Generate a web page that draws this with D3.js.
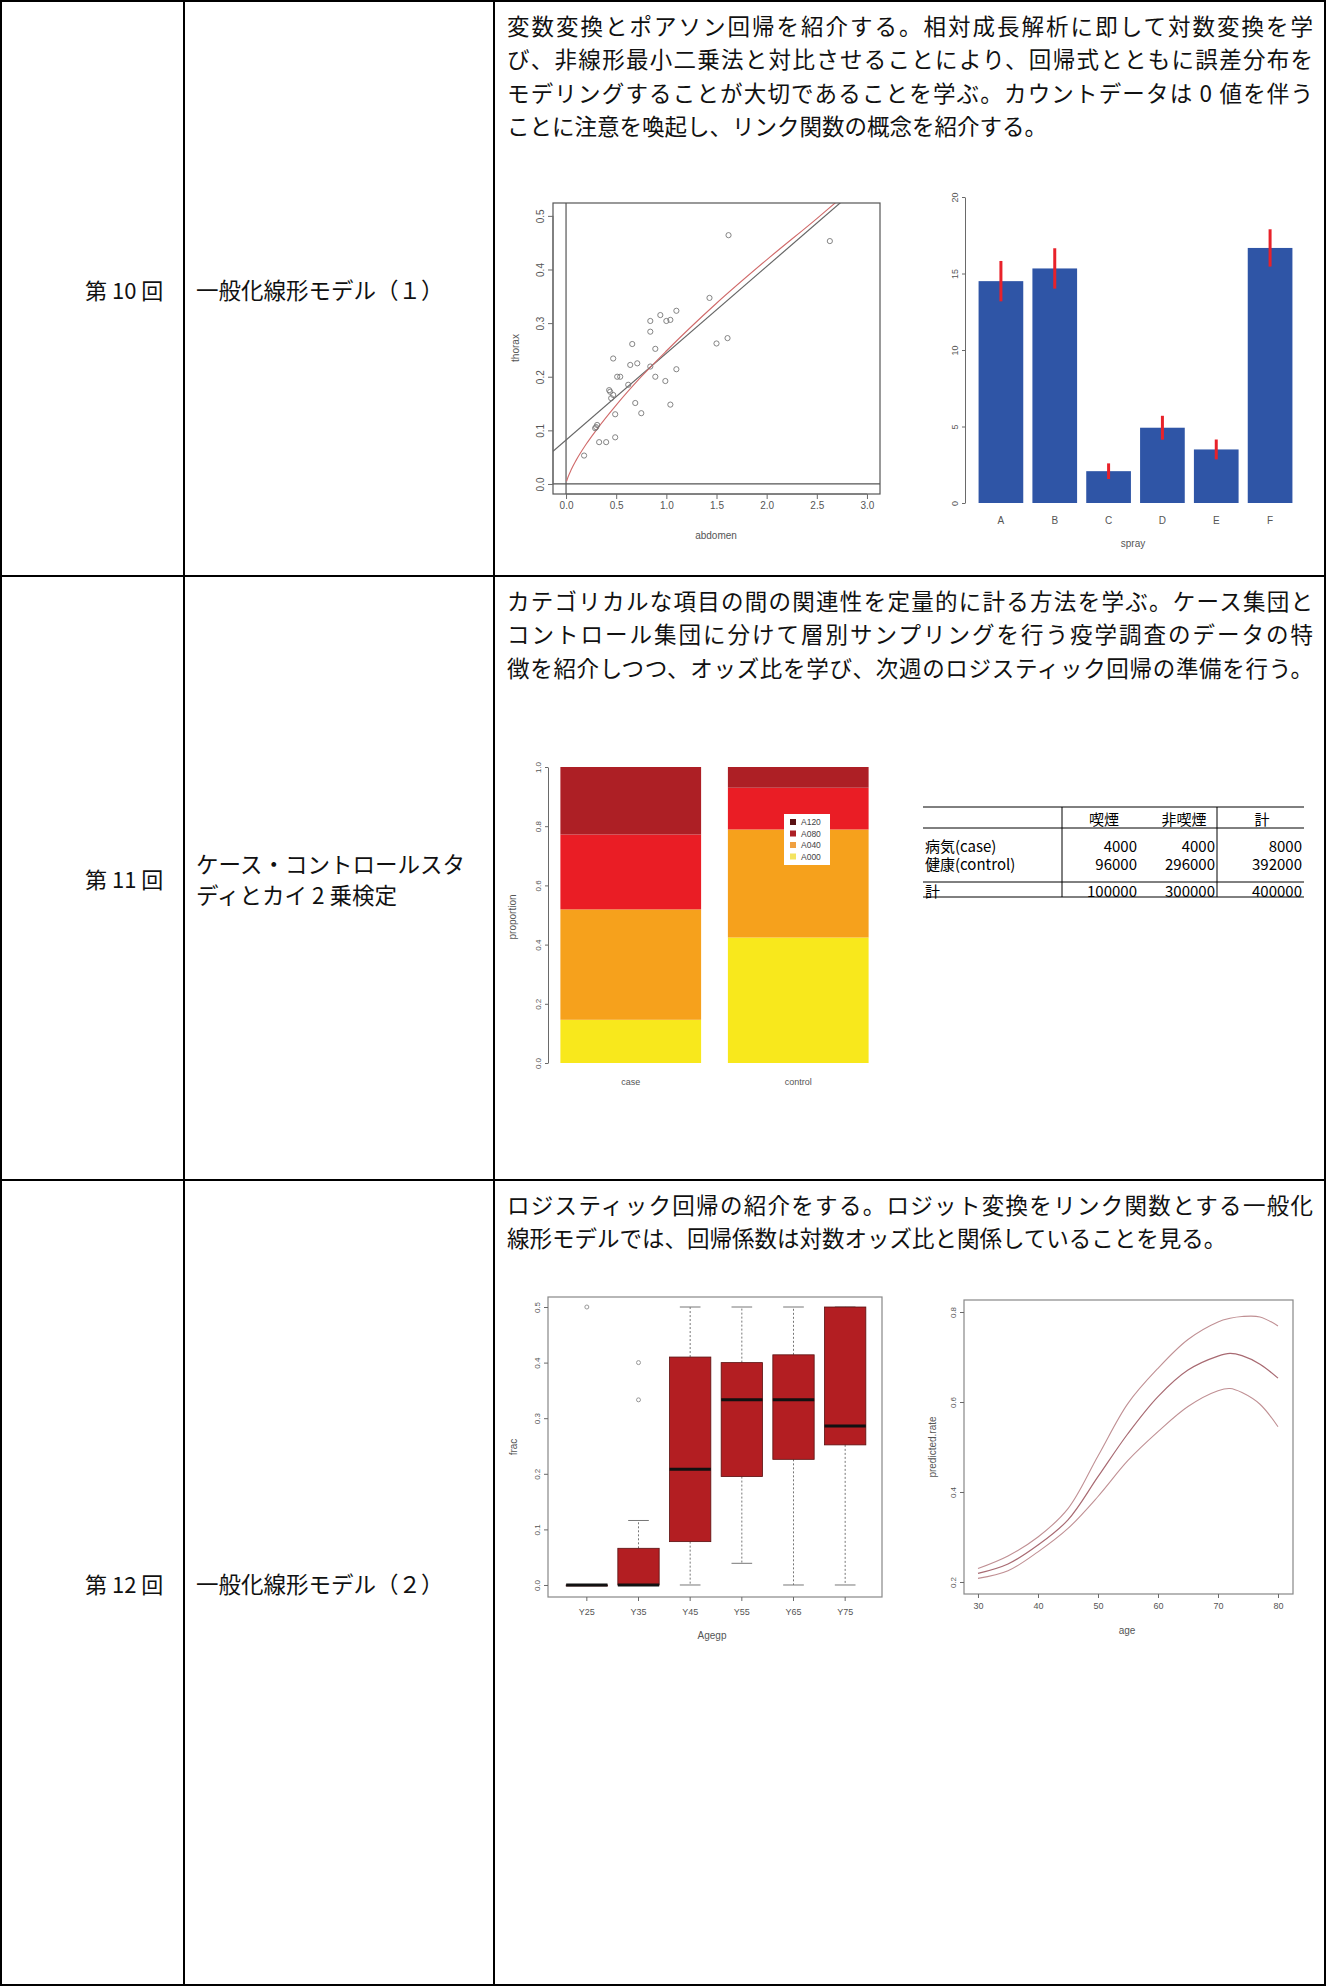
<!DOCTYPE html>
<html><head><meta charset="utf-8">
<script src="https://cdn.jsdelivr.net/npm/d3@7"></script>
<style>body{margin:0;background:#fff} svg{display:block}</style>
</head><body><svg id="c" width="1326" height="1986"></svg>
<script>
// ---------------- DATA ----------------
const rowLabels = ["第 10 回", "第 11 回", "第 12 回"];
const rowTitles = [["一般化線形モデル（１）"], ["ケース・コントロールスタ", "ディとカイ 2 乗検定"], ["一般化線形モデル（２）"]];
const row10Text = [
  "変数変換とポアソン回帰を紹介する。相対成長解析に即して対数変換を学",
  "び、非線形最小二乗法と対比させることにより、回帰式とともに誤差分布を",
  "モデリングすることが大切であることを学ぶ。カウントデータは 0 値を伴う",
  "ことに注意を喚起し、リンク関数の概念を紹介する。"
];
const row11Text = [
  "カテゴリカルな項目の間の関連性を定量的に計る方法を学ぶ。ケース集団と",
  "コントロール集団に分けて層別サンプリングを行う疫学調査のデータの特",
  "徴を紹介しつつ、オッズ比を学び、次週のロジスティック回帰の準備を行う。"
];
const row12Text = [
  "ロジスティック回帰の紹介をする。ロジット変換をリンク関数とする一般化",
  "線形モデルでは、回帰係数は対数オッズ比と関係していることを見る。"
];

// scatter (abdomen vs thorax)
const scatterAbdomen = [1.62,2.63,1.43,1.10,0.94,0.84,1.04,1.00,0.84,0.66,0.89,0.47,0.64,0.71,0.84,1.10,0.51,0.54,0.89,0.99,0.62,0.44,0.47,0.45,0.69,1.04,0.75,0.49,0.31,0.29,0.33,0.40,0.49,1.50,1.61,0.18,0.43,0.30];
const scatterThorax  = [0.464,0.453,0.347,0.323,0.315,0.304,0.306,0.304,0.284,0.261,0.252,0.234,0.222,0.225,0.219,0.214,0.200,0.200,0.200,0.192,0.185,0.172,0.166,0.160,0.151,0.148,0.132,0.130,0.110,0.104,0.078,0.078,0.087,0.262,0.272,0.053,0.175,0.106];
const scatterXTicks = [0,0.5,1.0,1.5,2.0,2.5,3.0];
const scatterYTicks = [0,0.1,0.2,0.3,0.4,0.5];
const fitLineX = [-0.13, 2.8];
const fitLineY = [0.061, 0.535];
const powerCurveX = [0.005,0.02,0.05,0.1,0.2,0.3,0.5,0.75,1.0,1.5,2.0,2.5,2.72];
const powerCurveY = [0.005,0.013,0.026,0.044,0.074,0.100,0.147,0.200,0.248,0.337,0.418,0.495,0.53];

// insect sprays
const sprays = ["A","B","C","D","E","F"];
const sprayMeans = [14.5,15.33,2.08,4.92,3.5,16.67];
const spraySE = [1.32,1.32,0.51,0.78,0.65,1.22];
const sprayYTicks = [0,5,10,15,20];

// stacked proportions
const groups = ["case","control"];
const alcLevels = ["A000","A040","A080","A120"];
const propCase = [0.146,0.373,0.253,0.228];
const propControl = [0.424,0.365,0.141,0.070];
const propTicks = [0,0.2,0.4,0.6,0.8,1.0];

// 2x2 table
const tableHeader = ["", "喫煙", "非喫煙", "計"];
const tableRowNames = ["病気(case)", "健康(control)", "計"];
const tableSmoke = [4000, 96000, 100000];
const tableNonSmoke = [4000, 296000, 300000];
const tableTotal = [8000, 392000, 400000];

// box plot
const ageGroups = ["Y25","Y35","Y45","Y55","Y65","Y75"];
const boxLow = [0, 0, 0, 0.039, 0, 0];
const boxQ1 = [0, 0, 0.078, 0.195, 0.226, 0.252];
const boxMedian = [0, 0, 0.208, 0.333, 0.333, 0.286];
const boxQ3 = [0, 0.066, 0.41, 0.40, 0.414, 0.5];
const boxHigh = [0, 0.116, 0.5, 0.5, 0.5, 0.5];
const boxOutliers = [[0.5],[0.4,0.333],[],[],[],[]];
const boxYTicks = [0,0.1,0.2,0.3,0.4,0.5];

// predicted curves
const ages = [30,35,40,45,50,55,60,65,70,72,74,77,80];
const predUpper = [0.230,0.258,0.300,0.363,0.480,0.597,0.675,0.739,0.778,0.786,0.790,0.789,0.769];
const predMid   = [0.219,0.240,0.282,0.338,0.434,0.530,0.612,0.671,0.702,0.708,0.703,0.684,0.653];
const predLower = [0.208,0.225,0.267,0.319,0.390,0.470,0.534,0.590,0.625,0.630,0.621,0.595,0.545];
const ageTicks = [30,40,50,60,70,80];
const predYTicks = [0.2,0.4,0.6,0.8];

// ---------------- DRAW ----------------
const svg = d3.select("#c");
svg.append("rect").attr("width",1326).attr("height",1986).attr("fill","#fff");
const JP = "'Noto Sans CJK JP','Noto Sans',sans-serif";
const LS = "'Liberation Sans',Arial,sans-serif";
const rowTops = [1, 576, 1180];
const rowBottoms = [576, 1180, 1985];

// table grid
const grid = svg.append("g").attr("stroke","#000").attr("stroke-width",2).attr("fill","none");
grid.append("rect").attr("x",1).attr("y",1).attr("width",1324).attr("height",1984);
[184,494].forEach(x=>grid.append("line").attr("x1",x).attr("x2",x).attr("y1",0).attr("y2",1986));
[576,1180].forEach(y=>grid.append("line").attr("x1",0).attr("x2",1326).attr("y1",y).attr("y2",y));

// left cells
rowLabels.forEach((t,i)=>{
  const cy = (rowTops[i]+rowBottoms[i])/2;
  svg.append("text").attr("x",85).attr("y",cy).attr("dominant-baseline","central")
    .attr("font-family",JP).attr("font-size",22).attr("fill","#111").text(t);
  const tl = rowTitles[i];
  tl.forEach((s,j)=>{
    svg.append("text").attr("x",196).attr("y",cy + (j - (tl.length-1)/2)*31)
      .attr("dominant-baseline","central").attr("font-family",JP).attr("font-size",22.5)
      .attr("fill","#111").text(s);
  });
});

function para(lines, y0, justifyCount){
  lines.forEach((s,i)=>{
    const t = svg.append("text").attr("x",507).attr("y",y0 + i*33.4).attr("dominant-baseline","central")
      .attr("font-family",JP).attr("font-size",22.5).attr("fill","#111").text(s);
    if(i < justifyCount) t.attr("textLength",806).attr("lengthAdjust","spacing");
  });
}
para(row10Text, rowTops[0]+24, 3);
para(row11Text, rowTops[1]+24, 3);
para(row12Text, rowTops[2]+24, 1);

function styleAxis(g, fs){
  g.selectAll("path,line").attr("stroke","#6a6a6a");
  g.selectAll("text").attr("fill","#555").attr("font-size",fs||10).attr("font-family",LS);
}
function rotateLeftLabels(g, off){
  g.selectAll("text").attr("transform","rotate(-90)").attr("x",0).attr("y",-off).attr("dy",0)
    .attr("text-anchor","middle");
}
function axisTitle(x,y,txt,rot){
  const t = svg.append("text").attr("x",x).attr("y",y).attr("text-anchor","middle").attr("dominant-baseline","central")
    .attr("font-family",LS).attr("font-size",10).attr("fill","#555").text(txt);
  if(rot) t.attr("transform",`rotate(-90,${x},${y})`);
}

// ---- Scatter ----
{
  const L=553,R=880,T=203,B=494;
  const x = d3.scaleLinear().domain([-0.13,3.13]).range([L,R]);
  const y = d3.scaleLinear().domain([-0.0187,0.524]).range([B,T]);
  svg.append("clipPath").attr("id","clipS").append("rect").attr("x",L).attr("y",T).attr("width",R-L).attr("height",B-T);
  const g = svg.append("g").attr("clip-path","url(#clipS)");
  g.append("line").attr("x1",L).attr("x2",R).attr("y1",y(0)).attr("y2",y(0)).attr("stroke","#555").attr("stroke-width",1.2);
  g.append("line").attr("x1",x(0)).attr("x2",x(0)).attr("y1",T).attr("y2",B).attr("stroke","#555").attr("stroke-width",1.2);
  g.append("path").attr("d",d3.line()(fitLineX.map((v,i)=>[x(v),y(fitLineY[i])])))
    .attr("stroke","#666").attr("stroke-width",1.2).attr("fill","none");
  g.append("path").attr("d",d3.line().curve(d3.curveMonotoneX)(powerCurveX.map((v,i)=>[x(v),y(powerCurveY[i])])))
    .attr("stroke","#d06a6a").attr("stroke-width",1.1).attr("fill","none");
  g.selectAll("circle").data(scatterAbdomen).join("circle")
    .attr("cx",d=>x(d)).attr("cy",(d,i)=>y(scatterThorax[i])).attr("r",2.6)
    .attr("fill","none").attr("stroke","#777").attr("stroke-width",0.9);
  svg.append("rect").attr("x",L).attr("y",T).attr("width",R-L).attr("height",B-T).attr("fill","none").attr("stroke","#555").attr("stroke-width",1.2);
  const ax = svg.append("g").attr("transform",`translate(0,${B})`)
    .call(d3.axisBottom(x).tickValues(scatterXTicks).tickFormat(d3.format(".1f")).tickSize(5).tickSizeOuter(0));
  ax.select(".domain").attr("d",`M${x(0)},0H${x(3)}`);
  styleAxis(ax);
  const ay = svg.append("g").attr("transform",`translate(${L},0)`)
    .call(d3.axisLeft(y).tickValues(scatterYTicks).tickFormat(d3.format(".1f")).tickSize(5).tickSizeOuter(0));
  ay.select(".domain").attr("d",`M0,${y(0)}V${y(0.5)}`);
  styleAxis(ay); rotateLeftLabels(ay, 9);
  axisTitle(716,535,"abdomen");
  axisTitle(515,348,"thorax",true);
}

// ---- Bar chart (sprays) ----
{
  const x = d3.scaleBand().domain(sprays).range([974,1297]).paddingInner(0.17).paddingOuter(0.085);
  const y = d3.scaleLinear().domain([0,20]).range([503,197]);
  svg.append("g").selectAll("rect").data(sprays).join("rect")
    .attr("x",d=>x(d)).attr("width",x.bandwidth())
    .attr("y",(d,i)=>y(sprayMeans[i])).attr("height",(d,i)=>y(0)-y(sprayMeans[i]))
    .attr("fill","#2f55a6");
  svg.append("g").selectAll("line").data(sprays).join("line")
    .attr("x1",d=>x(d)+x.bandwidth()/2).attr("x2",d=>x(d)+x.bandwidth()/2)
    .attr("y1",(d,i)=>y(sprayMeans[i]+spraySE[i])).attr("y2",(d,i)=>y(sprayMeans[i]-spraySE[i]))
    .attr("stroke","#e8222a").attr("stroke-width",3);
  const ay = svg.append("g").attr("transform","translate(965,0)")
    .call(d3.axisLeft(y).tickValues(sprayYTicks).tickSize(3).tickSizeOuter(0));
  styleAxis(ay,9); rotateLeftLabels(ay,7);
  const ax = svg.append("g").attr("transform","translate(0,503)")
    .call(d3.axisBottom(x).tickSize(0).tickPadding(14));
  ax.select(".domain").remove();
  styleAxis(ax,10);
  axisTitle(1133,543,"spray");
}

// ---- Stacked proportions ----
{
  const x = d3.scaleBand().domain(groups).range([547,882]).paddingInner(0.16).paddingOuter(0.08);
  const y = d3.scaleLinear().domain([0,1]).range([1063,767]);
  const colors = ["#f8e81c","#f6a11c","#ea1d25","#ad1f25"];
  const props = [propCase, propControl];
  groups.forEach((gname,gi)=>{
    let acc = 0;
    const segs = props[gi].map((v,k)=>{ const s={k,y0:acc,y1:acc+v}; acc+=v; return s; });
    svg.append("g").selectAll("rect").data(segs).join("rect")
      .attr("x",x(gname)).attr("width",x.bandwidth())
      .attr("y",d=>y(d.y1)).attr("height",d=>y(d.y0)-y(d.y1))
      .attr("fill",d=>colors[d.k]);
  });
  const ay = svg.append("g").attr("transform","translate(548,0)")
    .call(d3.axisLeft(y).tickValues(propTicks).tickFormat(d3.format(".1f")).tickSize(3).tickSizeOuter(0));
  styleAxis(ay,8); rotateLeftLabels(ay,7);
  const ax = svg.append("g").attr("transform","translate(0,1063)")
    .call(d3.axisBottom(x).tickSize(0).tickPadding(16));
  ax.select(".domain").remove();
  styleAxis(ax,9);
  axisTitle(512,917,"proportion",true);
  const lg = svg.append("g").attr("transform","translate(784,814)");
  lg.append("rect").attr("width",46).attr("height",51).attr("fill","#fff");
  const legOrder = alcLevels.slice().reverse();
  const legColors = ["#5a1214","#ad1f25","#f0a040","#f4e460"];
  legOrder.forEach((n,i)=>{
    lg.append("rect").attr("x",6).attr("y",5+i*11.5).attr("width",6).attr("height",6).attr("fill",legColors[i]);
    lg.append("text").attr("x",17).attr("y",8+i*11.5).attr("dominant-baseline","central")
      .attr("font-family",LS).attr("font-size",8.5).attr("fill","#444").text(n);
  });
}

// ---- 2x2 table ----
{
  const g = svg.append("g").attr("font-family",JP).attr("font-size",15).attr("fill","#000");
  const ln = (x1,y1,x2,y2)=>g.append("line").attr("x1",x1).attr("y1",y1).attr("x2",x2).attr("y2",y2).attr("stroke","#000").attr("stroke-width",1);
  ln(923,807,1304,807); ln(923,828,1304,828); ln(923,882,1304,882); ln(923,897,1304,897);
  ln(1062,807,1062,897); ln(1217,807,1217,897);
  const hx = [0,1104,1184,1262];
  tableHeader.forEach((h,i)=>{ if(h) g.append("text").attr("x",hx[i]).attr("y",818).attr("text-anchor","middle").attr("dominant-baseline","central").text(h); });
  const ry = [845,863,890];
  tableRowNames.forEach((n,i)=>{
    g.append("text").attr("x",925).attr("y",ry[i]).attr("dominant-baseline","central").text(n);
    [[tableSmoke,1137],[tableNonSmoke,1215],[tableTotal,1302]].forEach(([arr,rx])=>{
      g.append("text").attr("x",rx).attr("y",ry[i]).attr("text-anchor","end").attr("dominant-baseline","central").text(arr[i]);
    });
  });
}

// ---- Box plot ----
{
  const L=548,R=882,T=1297,B=1597;
  const x = d3.scaleBand().domain(ageGroups).range([561,871]).paddingInner(0.2).paddingOuter(0.1);
  const y = d3.scaleLinear().domain([-0.0216,0.518]).range([B,T]);
  const bw = x.bandwidth();
  const g = svg.append("g");
  ageGroups.forEach((a,i)=>{
    const cx = x(a)+bw/2;
    g.append("line").attr("x1",cx).attr("x2",cx).attr("y1",y(boxQ3[i])).attr("y2",y(boxHigh[i]))
      .attr("stroke","#777").attr("stroke-dasharray","2,2");
    g.append("line").attr("x1",cx).attr("x2",cx).attr("y1",y(boxQ1[i])).attr("y2",y(boxLow[i]))
      .attr("stroke","#777").attr("stroke-dasharray","2,2");
    [boxLow[i],boxHigh[i]].forEach(v=>g.append("line").attr("x1",cx-bw/4).attr("x2",cx+bw/4).attr("y1",y(v)).attr("y2",y(v)).attr("stroke","#777"));
    g.append("rect").attr("x",x(a)).attr("width",bw).attr("y",y(boxQ3[i])).attr("height",Math.max(y(boxQ1[i])-y(boxQ3[i]),1))
      .attr("fill","#b31e22").attr("stroke","#5a1010").attr("stroke-width",0.8);
    g.append("line").attr("x1",x(a)).attr("x2",x(a)+bw).attr("y1",y(boxMedian[i])).attr("y2",y(boxMedian[i]))
      .attr("stroke","#111").attr("stroke-width",3);
    boxOutliers[i].forEach(v=>g.append("circle").attr("cx",cx).attr("cy",y(v)).attr("r",2).attr("fill","none").attr("stroke","#999"));
  });
  svg.append("rect").attr("x",L).attr("y",T).attr("width",R-L).attr("height",B-T).attr("fill","none").attr("stroke","#888").attr("stroke-width",1.2);
  const ay = svg.append("g").attr("transform",`translate(${L},0)`)
    .call(d3.axisLeft(y).tickValues(boxYTicks).tickFormat(d3.format(".1f")).tickSize(4).tickSizeOuter(0));
  ay.select(".domain").remove();
  styleAxis(ay,8); rotateLeftLabels(ay,8);
  const ax = svg.append("g").attr("transform",`translate(0,${B})`)
    .call(d3.axisBottom(x).tickSize(4).tickSizeOuter(0).tickPadding(8));
  ax.select(".domain").remove();
  styleAxis(ax,9);
  axisTitle(712,1635,"Agegp");
  axisTitle(513,1447,"frac",true);
}

// ---- Predicted curves ----
{
  const L=964,R=1293,T=1300,B=1594;
  const x = d3.scaleLinear().domain([27.67,82.5]).range([L,R]);
  const y = d3.scaleLinear().domain([0.1733,0.8267]).range([B,T]);
  const line = d3.line().curve(d3.curveCatmullRom).x((d,i)=>x(ages[i])).y(d=>y(d));
  svg.append("path").attr("d",line(predUpper)).attr("fill","none").attr("stroke","#c09094").attr("stroke-width",1.1);
  svg.append("path").attr("d",line(predMid)).attr("fill","none").attr("stroke","#a86a72").attr("stroke-width",1.2);
  svg.append("path").attr("d",line(predLower)).attr("fill","none").attr("stroke","#c09094").attr("stroke-width",1.1);
  svg.append("rect").attr("x",L).attr("y",T).attr("width",R-L).attr("height",B-T).attr("fill","none").attr("stroke","#888").attr("stroke-width",1.2);
  const ax = svg.append("g").attr("transform",`translate(0,${B})`)
    .call(d3.axisBottom(x).tickValues(ageTicks).tickSize(4).tickSizeOuter(0).tickPadding(5));
  ax.select(".domain").remove();
  styleAxis(ax,9);
  const ay = svg.append("g").attr("transform",`translate(${L},0)`)
    .call(d3.axisLeft(y).tickValues(predYTicks).tickFormat(d3.format(".1f")).tickSize(4).tickSizeOuter(0));
  ay.select(".domain").remove();
  styleAxis(ay,8); rotateLeftLabels(ay,8);
  axisTitle(1127,1630,"age");
  axisTitle(932,1447,"predicted.rate",true);
}
</script></body></html>
